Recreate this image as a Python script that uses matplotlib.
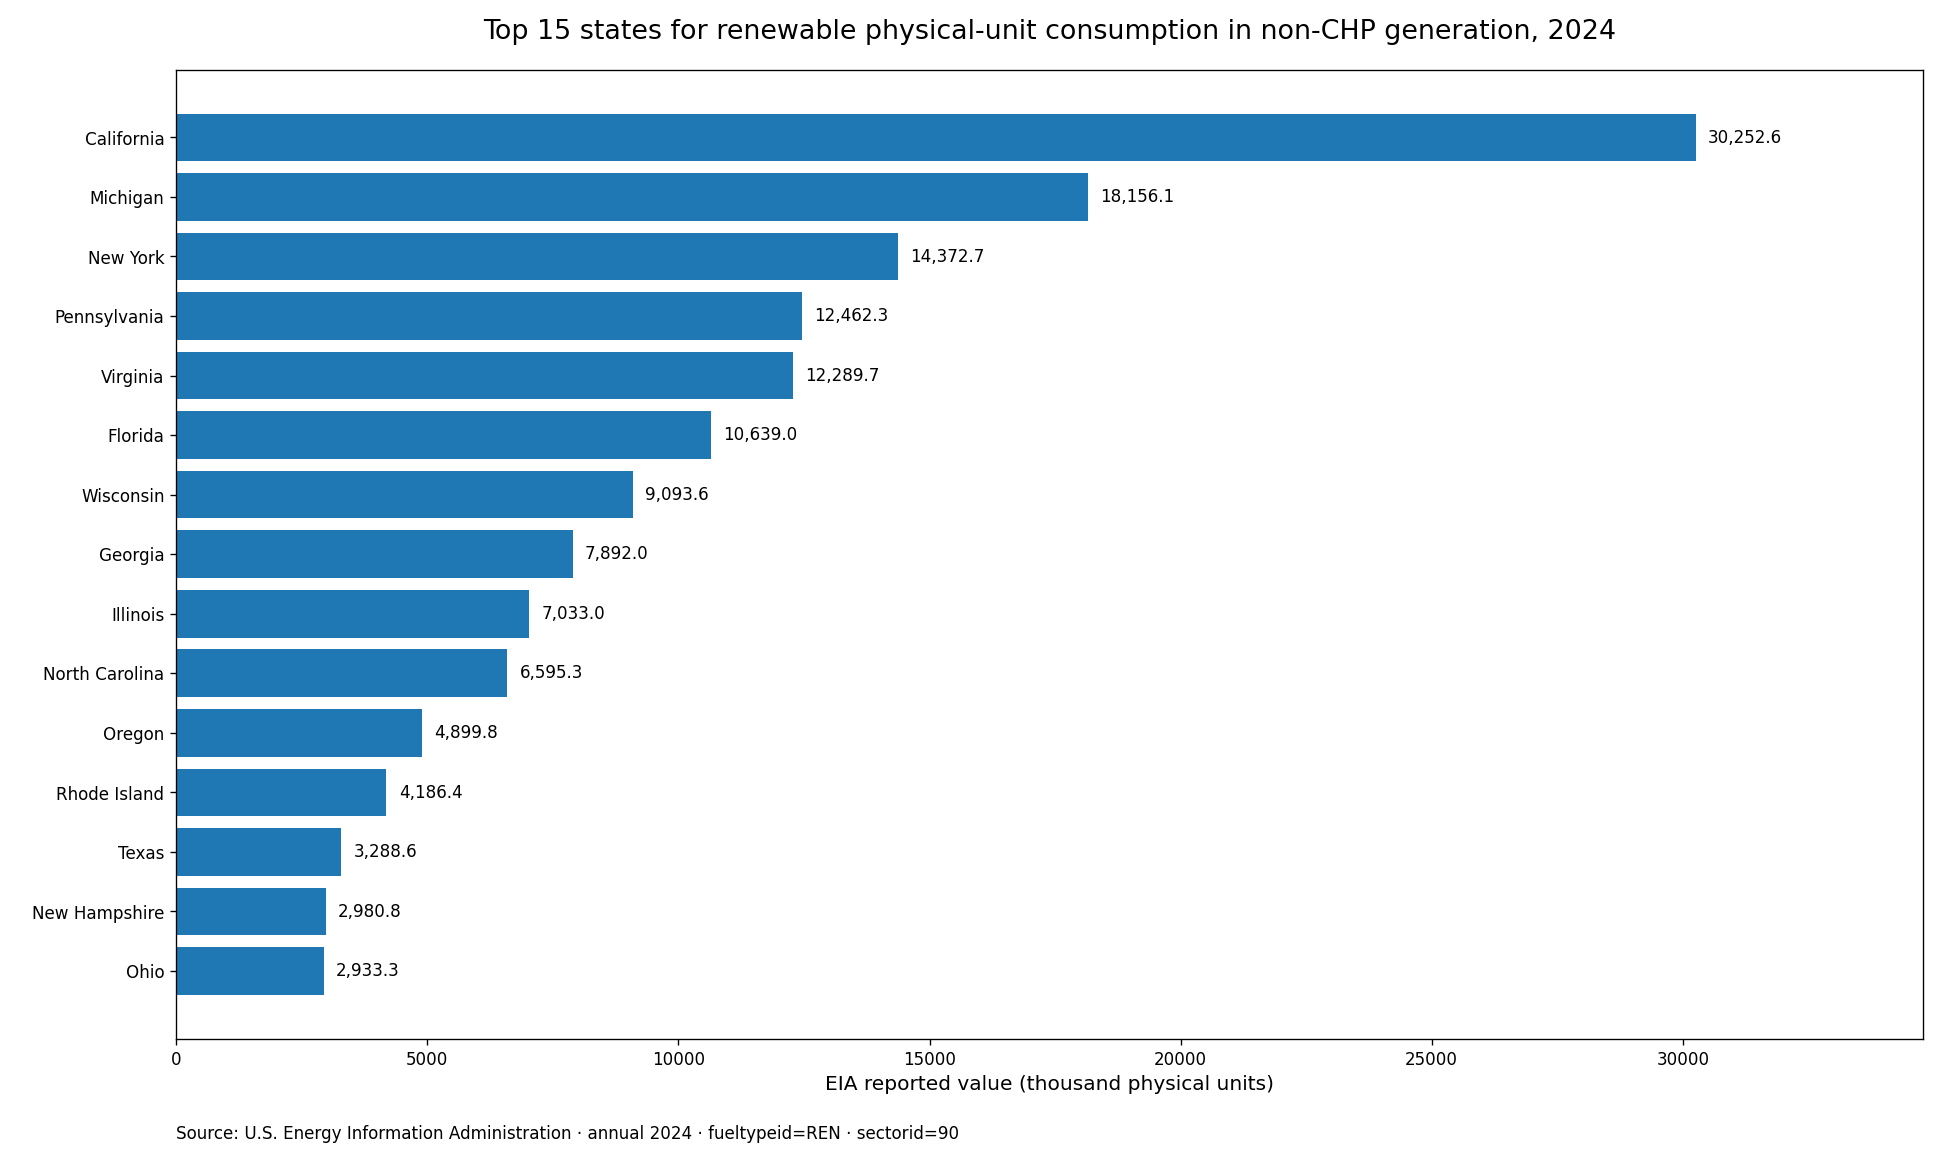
import matplotlib
matplotlib.use("Agg")
import matplotlib.pyplot as plt

states = ["California","Michigan","New York","Pennsylvania","Virginia","Florida","Wisconsin",
          "Georgia","Illinois","North Carolina","Oregon","Rhode Island","Texas","New Hampshire","Ohio"]
values = [30252.6,18156.1,14372.7,12462.3,12289.7,10639.0,9093.6,7892.0,7033.0,6595.3,
          4899.8,4186.4,3288.6,2980.8,2933.3]

fig = plt.figure(figsize=(16, 9.6), dpi=121.06)
ax = fig.add_axes([0.091, 0.106, 0.902, 0.834])
ax.barh(states, values, color="#1f77b4", height=0.8)
ax.invert_yaxis()
ax.set_xlim(0, max(values) * 1.15)
for i, v in enumerate(values):
    ax.text(v + max(values) * 0.008, i, f"{v:,.1f}", va="center", fontsize=10)
ax.set_xlabel("EIA reported value (thousand physical units)", fontsize=12)
ax.set_title("Top 15 states for renewable physical-unit consumption in non-CHP generation, 2024",
             fontsize=16, pad=18)
ax.tick_params(labelsize=10)
fig.text(0.091, 0.02, "Source: U.S. Energy Information Administration · annual 2024 · fueltypeid=REN · sectorid=90",
         fontsize=10)
fig.savefig("out.png")
